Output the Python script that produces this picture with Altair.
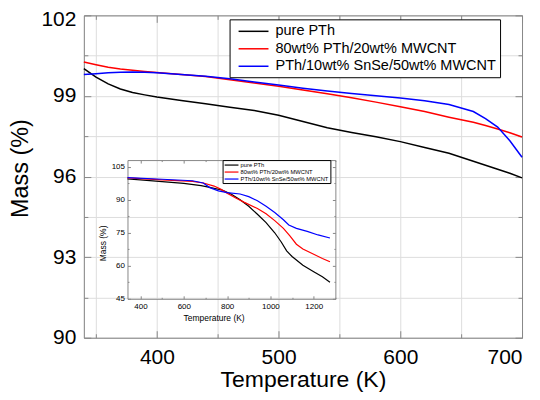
import altair as alt
import pandas as pd

series_names = ["pure PTh", "80wt% PTh/20wt% MWCNT", "PTh/10wt% SnSe/50wt% MWCNT"]
series_colors = ["#000000", "#ff0000", "#0000ff"]

# ---- main panel (Temperature K, Mass %) ----
main_T = [340, 350, 360, 370, 380, 390, 400, 420, 440, 460, 480, 500,
          520, 540, 560, 580, 600, 620, 640, 660, 670, 680, 690, 700]
main_pure = [100.02, 99.70, 99.45, 99.26, 99.13, 99.04, 98.96, 98.83, 98.71, 98.58, 98.46, 98.28,
             98.05, 97.82, 97.64, 97.48, 97.30, 97.08, 96.87, 96.57, 96.42, 96.27, 96.12, 95.95]
main_cnt = [100.26, 100.16, 100.07, 100.00, 99.96, 99.91, 99.87, 99.80, 99.72, 99.60, 99.48, 99.36,
            99.22, 99.08, 98.93, 98.77, 98.60, 98.42, 98.21, 98.02, 97.90, 97.77, 97.63, 97.47]
main_snse = [99.80, 99.83, 99.86, 99.88, 99.89, 99.88, 99.86, 99.80, 99.73, 99.64, 99.52, 99.41,
             99.29, 99.18, 99.09, 99.01, 98.92, 98.82, 98.68, 98.42, 98.16, 97.84, 97.33, 96.72]

# ---- inset panel ----
inset_T_pure = [340, 400, 500, 600, 680, 720, 780, 820, 860, 900, 940, 980, 1020, 1050, 1075, 1100, 1150, 1200, 1240, 1275]
inset_pure = [99.4, 99.0, 98.2, 97.4, 96.4, 95.6, 94.3, 92.5, 90.0, 87.0, 83.4, 79.6, 75.0, 70.8, 66.8, 64.2, 60.2, 57.3, 55.0, 52.5]
inset_T_cnt = [340, 500, 640, 690, 740, 770, 800, 840, 880, 940, 980, 1020, 1060, 1090, 1120, 1150, 1200, 1240, 1275]
inset_cnt = [99.9, 99.0, 98.3, 97.6, 96.2, 94.8, 93.0, 90.8, 88.8, 86.0, 83.6, 80.5, 77.0, 73.6, 69.8, 67.6, 65.2, 63.3, 61.8]
inset_T_snse = [340, 500, 640, 690, 720, 760, 800, 860, 900, 940, 980, 1020, 1060, 1085, 1120, 1170, 1220, 1275]
inset_snse = [100.0, 99.3, 98.6, 97.6, 95.5, 94.0, 93.2, 92.6, 91.4, 89.5, 87.0, 84.2, 80.9, 78.5, 77.0, 75.6, 74.0, 72.6]

main_x_ticks = [350, 400, 450, 500, 550, 600, 650, 700]
main_y_ticks = [90, 91.5, 93, 94.5, 96, 97.5, 99, 100.5, 102]
inset_x_ticks = [400, 500, 600, 700, 800, 900, 1000, 1100, 1200, 1300]
inset_y_ticks = [45, 52.5, 60, 67.5, 75, 82.5, 90, 97.5, 105]

rows = []
for name, ys in zip(series_names, [main_pure, main_cnt, main_snse]):
    for t, m in zip(main_T, ys):
        rows.append({"series": name, "T": t, "mass": m})
main_df = pd.DataFrame(rows)

rows = []
for name, ts, ys in zip(series_names, [inset_T_pure, inset_T_cnt, inset_T_snse],
                        [inset_pure, inset_cnt, inset_snse]):
    for t, m in zip(ts, ys):
        rows.append({"series": name, "T": t, "mass": m})
inset_df = pd.DataFrame(rows)

FONT = "Liberation Sans"
W, H = 439, 323
TOP = 15                       # plot top on page
SVG_BOTTOM = 392               # page y where the drawing ends
IX0, IX1 = 43.7, 252           # inset plot range (px, relative to main plot)
IY0, IY1 = 299 - TOP, 160 - TOP

def tsize(test, major, minor):
    return {"condition": {"test": test, "value": major}, "value": minor}

main_xscale = alt.Scale(domain=[340, 700], nice=False, zero=False)
main_yscale = alt.Scale(domain=[90, 102], nice=False, zero=False)
inset_xscale = alt.Scale(domain=[340, 1300], nice=False, zero=False, range=[IX0, IX1])
inset_yscale = alt.Scale(domain=[45, 108], nice=False, zero=False, range=[IY0, IY1])

mx_test = "datum.value % 100 === 0"
my_test = "datum.value % 3 === 0"
ix_test = "datum.value % 200 === 0"
iy_test = "(datum.value - 45) % 15 === 0"

main_color = alt.Color(
    "series:N",
    scale=alt.Scale(domain=series_names, range=series_colors),
    sort=series_names,
    legend=alt.Legend(
        title=None, orient="none", legendX=146, legendY=19 - TOP,
        strokeColor="black", fillColor="white", padding=4,
        labelFont=FONT, labelFontSize=14.5, labelColor="black", labelLimit=400,
        symbolType="M-2.14,0H2.14", symbolSize=196, symbolStrokeWidth=1.5,
        labelOffset=14, symbolOffset=12, rowPadding=2.5,
    ),
)

main = alt.Chart(main_df).mark_line(strokeWidth=1.5).encode(
    x=alt.X("T:Q", scale=main_xscale,
            axis=alt.Axis(orient="bottom", values=main_x_ticks, title="Temperature (K)",
                          labelExpr=f"{mx_test} ? datum.label : ''",
                          tickSize=tsize(mx_test, -7, -4), labelPadding=15.5,
                          titleFontSize=23, titleFontWeight="normal",
                          labelFontSize=21, titlePadding=1)),
    y=alt.Y("mass:Q", scale=main_yscale,
            axis=alt.Axis(orient="left", values=main_y_ticks, title="Mass (%)", format="d",
                          labelExpr=f"{my_test} ? datum.label : ''",
                          labelOffset={"condition": {"test": "datum.value === 102", "value": 4.5},
                                       "value": 0},
                          tickSize=tsize(my_test, -7, -4), labelPadding=15,
                          titleFontSize=23.5, titleFontWeight="normal",
                          labelFontSize=21, titlePadding=8, titleY=153)),
    color=main_color,
    detail="series:N",
)

main_frame = alt.Chart(main_df).mark_line(opacity=0).encode(
    x=alt.X("T:Q", scale=main_xscale,
            axis=alt.Axis(orient="top", values=main_x_ticks, title=None, labels=False,
                          tickSize=tsize(mx_test, -7, -4))),
    y=alt.Y("mass:Q", scale=main_yscale,
            axis=alt.Axis(orient="right", values=main_y_ticks, title=None, labels=False,
                          tickSize=tsize(my_test, -7, -4))),
    detail="series:N",
)

inset_color = alt.Color(
    "series:N",
    scale=alt.Scale(domain=series_names, range=series_colors),
    sort=series_names,
    legend=alt.Legend(
        title=None, orient="none", legendX=139, legendY=160 - TOP,
        strokeColor="black", fillColor="white", padding=1,
        labelFont=FONT, labelFontSize=5.8, labelColor="black", labelLimit=200,
        symbolType="M-2.3,0H2.3", symbolSize=36, symbolStrokeWidth=1.2,
        labelOffset=5, symbolOffset=4, rowPadding=-2.5,
    ),
)

inset = alt.Chart(inset_df).mark_line(strokeWidth=1.2).encode(
    x=alt.X("T:Q", scale=inset_xscale,
            axis=alt.Axis(orient="bottom", offset=IY0 - H, values=inset_x_ticks,
                          title="Temperature (K)", format="d",
                          labelExpr=f"{ix_test} ? datum.label : ''",
                          tickSize=tsize(ix_test, -3, -1.5), labelPadding=6.5,
                          titleFontSize=8.5, titleFontWeight="normal",
                          labelFontSize=8, titlePadding=3, titleX=130,
                          domainWidth=1, tickWidth=1)),
    y=alt.Y("mass:Q", scale=inset_yscale,
            axis=alt.Axis(orient="left", offset=-IX0, values=inset_y_ticks, title="Mass (%)",
                          format="d",
                          labelExpr=f"{iy_test} ? datum.label : ''",
                          tickSize=tsize(iy_test, -3, -1.5), labelPadding=6,
                          titleFontSize=8.5, titleFontWeight="normal",
                          labelFontSize=8, titlePadding=4, titleY=243 - TOP,
                          domainWidth=1, tickWidth=1)),
    color=inset_color,
    detail="series:N",
)

inset_frame = alt.Chart(inset_df).mark_line(opacity=0).encode(
    x=alt.X("T:Q", scale=inset_xscale,
            axis=alt.Axis(orient="top", offset=-IY1, values=inset_x_ticks, title=None,
                          labels=False, tickSize=tsize(ix_test, -3, -1.5),
                          domainWidth=1, tickWidth=1)),
    y=alt.Y("mass:Q", scale=inset_yscale,
            axis=alt.Axis(orient="right", offset=IX1 - W, values=inset_y_ticks, title=None,
                          labels=False, tickSize=tsize(iy_test, -3, -1.5),
                          domainWidth=1, tickWidth=1)),
    detail="series:N",
)

chart = alt.layer(main, main_frame, inset, inset_frame).resolve_scale(
    x="independent", y="independent", color="independent"
).properties(
    width=W, height=H,
    autosize=alt.AutoSizeParams(type="none"),
    padding={"left": 76, "top": TOP - 8, "right": 10, "bottom": SVG_BOTTOM - TOP - H},
).configure_view(stroke=None).configure_axis(
    grid=False, domainColor="black", domainWidth=1.5, tickColor="black", tickWidth=1.5,
    labelColor="black", titleColor="black", labelFont=FONT, titleFont=FONT,
    titleFontWeight="normal", labelFlush=False, labelOverlap=False,
).configure(background="white")

chart.save("out.html", embed_options={"renderer": "svg", "actions": False})
